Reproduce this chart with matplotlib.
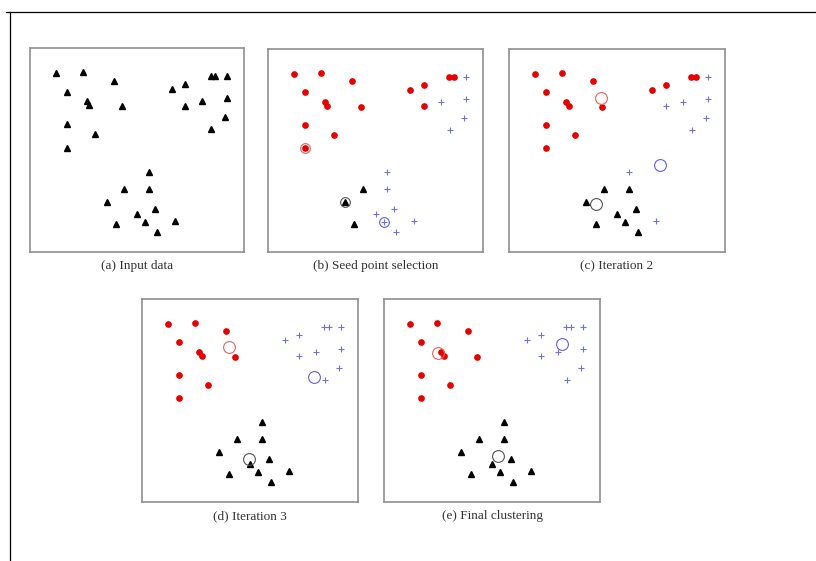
import matplotlib as mpl
mpl.use('Agg')
import matplotlib.pyplot as plt
from matplotlib.lines import Line2D

# point positions (same 30 points in every panel)
pts_x = [12.0, 24.6, 39.1, 17.1, 26.5, 27.6, 43.1, 17.1, 30.5, 17.1,
         66.2, 72.6, 84.4, 86.4, 92.2, 80.5, 72.6, 92.2, 91.1, 84.6,
         55.5, 44.1, 55.5, 35.8, 58.6, 50.0, 53.9, 40.2, 67.9, 59.5]
pts_y = [87.9, 88.4, 84.0, 78.6, 73.9, 71.9, 71.4, 62.6, 57.8, 51.1,
         79.9, 82.2, 86.4, 86.4, 86.4, 73.9, 71.7, 75.6, 66.2, 60.1,
         39.2, 31.0, 31.0, 24.4, 21.2, 18.6, 14.9, 13.7, 15.3, 10.0]

# cluster labels per panel: r = red, b = blue, k = black
labels_a = 'k' * 30
labels_b = 'rrrrrrrrrrrrrrbbrbbbbkbkbbbkbb'
labels_c = 'rrrrrrrrrrrrrrbbbbbbbkkkkkkkbk'
labels_d = 'r' * 10 + 'b' * 10 + 'k' * 10
labels_e = labels_d

# cluster centres per panel (red, blue, black)
seeds_b = [9, 26, 23]  # index of seed points
centres_c = [(42.4, 76.0), (70.1, 43.0), (40.2, 23.4)]
centres_d = [(40.2, 76.3), (79.6, 61.4), (49.5, 21.1)]
centres_e = [(25.2, 73.4), (82.6, 77.8), (52.7, 22.7)]

captions = ['(a) Input data', '(b) Seed point selection', '(c) Iteration 2',
            '(d) Iteration 3', '(e) Final clustering']

W, H = 816, 561
fig = plt.figure(figsize=(W / 100, H / 100), dpi=100)
fig.patch.set_facecolor('white')

# panel boxes in pixels: left, top, right, bottom
boxes = [(30, 48, 244, 252), (268, 49, 483, 252), (509, 49, 725, 252),
         (142, 299, 358, 502), (384, 299, 600, 502)]

styles = {
    'k': dict(marker='^', color='black', markersize=4.8, linestyle='none'),
    'r': dict(marker='o', color='#e60000', markersize=3.8, linestyle='none'),
    'b': dict(marker='+', color='#7070e6', markersize=5, mew=0.8, linestyle='none'),
}
ring_colors = {'r': '#ee6060', 'b': '#6060e8', 'k': '#555555'}

def draw_points(ax, labels):
    for c in 'rbk':
        xs = [x for x, l in zip(pts_x, labels) if l == c]
        ys = [y for y, l in zip(pts_y, labels) if l == c]
        ax.plot(xs, ys, **styles[c])

def draw_centres(ax, centres, size=8.5):
    for (cx, cy), c in zip(centres, 'rbk'):
        ax.plot(cx, cy, marker='o', markersize=size, mfc='none',
                mec=ring_colors[c], mew=0.8, linestyle='none')

all_labels = [labels_a, labels_b, labels_c, labels_d, labels_e]
for i, (l, t, r, b) in enumerate(boxes):
    ax = fig.add_axes([l / W, 1 - b / H, (r - l) / W, (b - t) / H])
    ax.set_xlim(0, 100)
    ax.set_ylim(0, 100)
    ax.set_xticks([])
    ax.set_yticks([])
    for s in ax.spines.values():
        s.set_color('#8f8f8f')
        s.set_linewidth(1.2)
    draw_points(ax, all_labels[i])
    if i == 1:
        seeds = [(pts_x[j], pts_y[j]) for j in seeds_b]
        draw_centres(ax, seeds, size=7)
    elif i == 2:
        draw_centres(ax, centres_c)
    elif i == 3:
        draw_centres(ax, centres_d)
    elif i == 4:
        draw_centres(ax, centres_e)
    fig.text((l + r) / 2 / W, 1 - (b + 14) / H, captions[i],
             ha='center', va='center', fontsize=9.5,
             family='Liberation Serif', color='#333333')

# outer frame lines
fig.add_artist(Line2D([6 / W, 1], [1 - 11.5 / H, 1 - 11.5 / H],
                      transform=fig.transFigure, color='black', lw=0.9))
fig.add_artist(Line2D([10 / W, 10 / W], [0, 1 - 11.5 / H],
                      transform=fig.transFigure, color='black', lw=0.9))

fig.savefig('out.png', dpi=100)
